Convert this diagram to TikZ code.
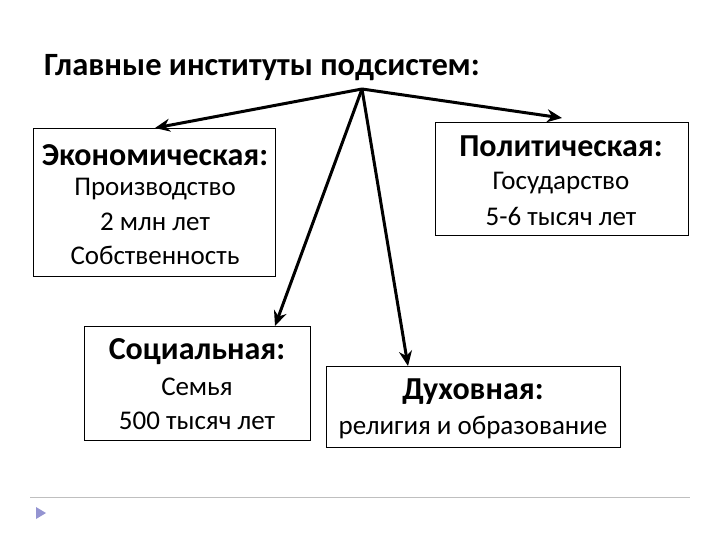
\documentclass[tikz,border=0pt]{standalone}
\usepackage{fontspec}
\setmainfont{Carlito}
\usetikzlibrary{arrows.meta}
\begin{document}
\begin{tikzpicture}[x=1pt,y=-1pt,
 box/.style={draw,line width=0.8pt,anchor=north west,inner sep=0pt},
 hd/.style={font=\fontsize{32}{36}\selectfont\bfseries},
 tx/.style={font=\fontsize{27}{30}\selectfont},
 arr/.style={line width=3pt,-{Stealth[length=15pt,width=13pt]}}]
\useasboundingbox (0,0) rectangle (720,540);
\node[font=\fontsize{32.5}{36}\selectfont\bfseries] (title) at (262,68) {Главные институты подсистем:};
\draw[box] (33,128) rectangle (275,276); \coordinate (eT) at (155,128);
\draw[box] (435,122) rectangle (688,235); \coordinate (pT) at (562,118);
\draw[box] (84,326) rectangle (310,440); \coordinate (sT) at (275,326);
\draw[box] (326,366) rectangle (620,447); \coordinate (dT) at (408,366);
\node[hd] (e1) at (155,155) {Экономическая:};
\node[tx] (e2) at (155,189) {Производство};
\node[tx] (e3) at (155,222) {2 млн лет};
\node[tx] (e4) at (155,255) {Собственность};
\node[hd] (p1) at (561,146) {Политическая:};
\node[tx] (p2) at (561,183) {Государство};
\node[tx] (p3) at (561,216) {5-6 тысяч лет};
\node[hd] (s1) at (197,352) {Социальная:};
\node[tx] (s2) at (197,387) {Семья};
\node[tx] (s3) at (197,421) {500 тысяч лет};
\node[hd] (d1) at (473,392) {Духовная:};
\node[tx] (d2) at (473,427) {религия и образование};
\coordinate (o) at (362,89);
\draw[arr] (o) -- (eT);
\draw[arr] (o) -- (pT);
\draw[arr] (o) -- (sT);
\draw[arr] (o) -- (dT);
\draw[gray!50,line width=0.8pt] (30,497) -- (690,497);
\fill[gray!60!blue!60] (36,507) -- (46,513) -- (36,519) -- cycle;
\end{tikzpicture}
\end{document}
